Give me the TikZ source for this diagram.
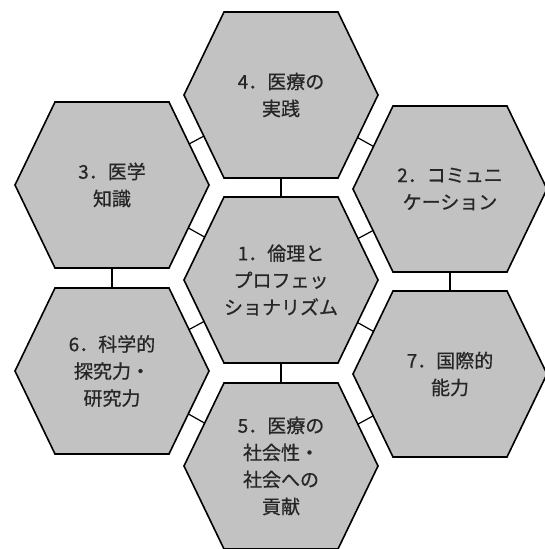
\documentclass[tikz,border=0pt]{standalone}
\usepackage{fontspec}
\setmainfont{Noto Sans CJK JP}
\newfontfamily\cellfont{Noto Sans CJK JP}[FakeBold=0.7]
\usetikzlibrary{backgrounds}
\definecolor{cellgray}{RGB}{194,194,194}
\tikzset{
  cell/.style={draw=black,fill=cellgray,line width=1.6pt},
  celltext/.style={align=center,font=\cellfont\fontsize{19}{27}\selectfont,text=black!85},
  link/.style={line width=1.2pt}
}
\begin{document}
\begin{tikzpicture}[x=1pt,y=-1pt]
\useasboundingbox (0,0) rectangle (545,549);
% honeycomb cells
\foreach \x/\y in {281/95, 112/185, 450/189, 281/280, 112/371, 450/374, 281/466}
  \draw[cell] (\x,\y) +(-97,0) -- +(-57,-83) -- +(57,-83) -- +(97,0) -- +(57,83) -- +(-57,83) -- cycle;

\node[celltext] (practice) at (281,95) {4．医療の\\実践};
\node[celltext] (knowledge) at (112,185) {3．医学\\知識};
\node[celltext] (comm) at (450,189) {2．コミュニ\\ケーション};
\node[celltext] (ethics) at (281,280) {1．倫理と\\プロフェッ\\ショナリズム};
\node[celltext] (research) at (112,371) {6．科学的\\探究力・\\研究力};
\node[celltext] (global) at (450,374) {7．国際的\\能力};
\node[celltext] (society) at (281,466) {5．医療の\\社会性・\\社会への\\貢献};

% links between neighbours
\begin{pgfonlayer}{background}
\draw[link] (practice) -- (ethics);
\draw[link] (practice) -- (knowledge);
\draw[link] (practice) -- (comm);
\draw[link] (ethics) -- (knowledge);
\draw[link] (ethics) -- (comm);
\draw[link] (ethics) -- (research);
\draw[link] (ethics) -- (global);
\draw[link] (ethics) -- (society);
\draw[link] (knowledge) -- (research);
\draw[link] (comm) -- (global);
\draw[link] (research) -- (society);
\draw[link] (global) -- (society);
\end{pgfonlayer}
\end{tikzpicture}
\end{document}
